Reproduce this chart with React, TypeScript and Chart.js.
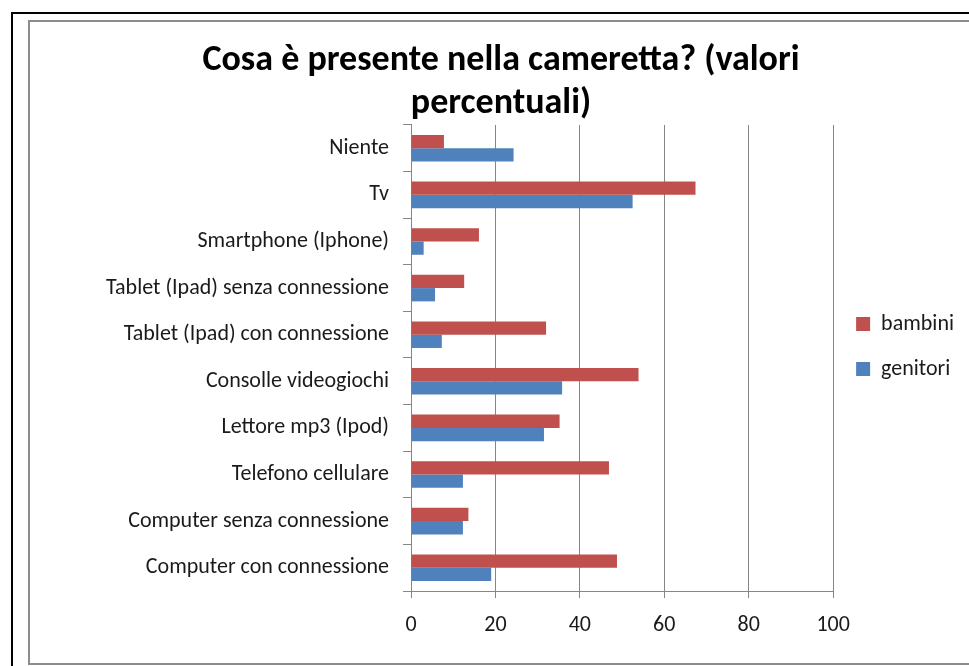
import React, { useEffect, useRef } from 'react';
import { Chart, registerables } from 'chart.js';

Chart.register(...registerables);

const categories = [
  'Niente',
  'Tv',
  'Smartphone (Iphone)',
  'Tablet (Ipad) senza connessione',
  'Tablet (Ipad) con connessione',
  'Consolle videogiochi',
  'Lettore mp3 (Ipod)',
  'Telefono cellulare',
  'Computer senza connessione',
  'Computer con connessione',
];
const bambini = [7.8, 67.4, 16.1, 12.6, 32.0, 53.9, 35.2, 46.9, 13.6, 48.8];
const genitori = [24.3, 52.5, 3.0, 5.7, 7.3, 35.8, 31.5, 12.3, 12.3, 19.0];
const titleLines = ['Cosa è presente nella cameretta? (valori', 'percentuali)'];
const seriesNames = ['bambini', 'genitori'];
const xMin = 0;
const xMax = 100;
const xStep = 20;

const FONT = 'Carlito, Lato, "Liberation Sans", sans-serif';

export default function App() {
  const ref = useRef<HTMLCanvasElement | null>(null);

  useEffect(() => {
    if (!ref.current) return;
    const chart = new Chart(ref.current, {
      type: 'bar',
      data: {
        labels: categories,
        datasets: [
          {
            label: seriesNames[0],
            data: bambini,
            backgroundColor: '#C0504D',
            borderWidth: 0,
            categoryPercentage: 0.57,
            barPercentage: 1,
          },
          {
            label: seriesNames[1],
            data: genitori,
            backgroundColor: '#4F81BD',
            borderWidth: 0,
            categoryPercentage: 0.57,
            barPercentage: 1,
          },
        ],
      },
      options: {
        indexAxis: 'y',
        animation: false,
        responsive: false,
        layout: { padding: { left: 38, right: 5, top: 0, bottom: 0 } },
        plugins: {
          title: {
            display: true,
            text: titleLines,
            color: '#000',
            font: { family: FONT, size: 36, weight: 'bold', lineHeight: 1.194 },
            padding: { top: 40, bottom: -1 },
          },
          legend: {
            position: 'right',
            align: 'start',
            title: {
              display: true,
              text: '',
              font: { size: 10, lineHeight: 1 },
              padding: { top: 280, bottom: 0 },
            },
            labels: {
              boxWidth: 14,
              boxHeight: 14,
              padding: 23,
              color: '#1a1a1a',
              font: { family: FONT, size: 22 },
            },
          },
          tooltip: { enabled: false },
        },
        scales: {
          x: {
            min: xMin,
            max: xMax,
            ticks: {
              stepSize: xStep,
              color: '#1a1a1a',
              font: { family: FONT, size: 22 },
              padding: 14,
            },
            grid: {
              color: '#868686',
              tickLength: 7,
              lineWidth: 1,
            },
            border: { color: '#868686' },
            afterFit: (scale: any) => {
              scale.height = 75;
            },
          },
          y: {
            ticks: {
              color: '#1a1a1a',
              font: { family: FONT, size: 22 },
              padding: 14,
            },
            grid: {
              drawOnChartArea: false,
              color: '#868686',
              tickLength: 8,
              offset: true,
            },
            border: { color: '#868686' },
            afterFit: (scale: any) => {
              scale.width = 373;
            },
          },
        },
      },
    });
    return () => chart.destroy();
  }, []);

  return (
    <div style={{ position: 'absolute', left: 0, top: 0, width: 969, height: 666, overflow: 'hidden', background: '#fff' }}>
      <div
        style={{
          position: 'absolute',
          left: 11,
          top: 12,
          width: 1000,
          height: 700,
          border: '2px solid #000',
        }}
      />
      <div
        style={{
          position: 'absolute',
          left: 28,
          top: 20,
          width: 1000,
          height: 641,
          border: '2px solid #8c8c8c',
        }}
      />
      <canvas ref={ref} width={969} height={666} style={{ position: 'absolute', left: 0, top: 0 }} />
    </div>
  );
}
